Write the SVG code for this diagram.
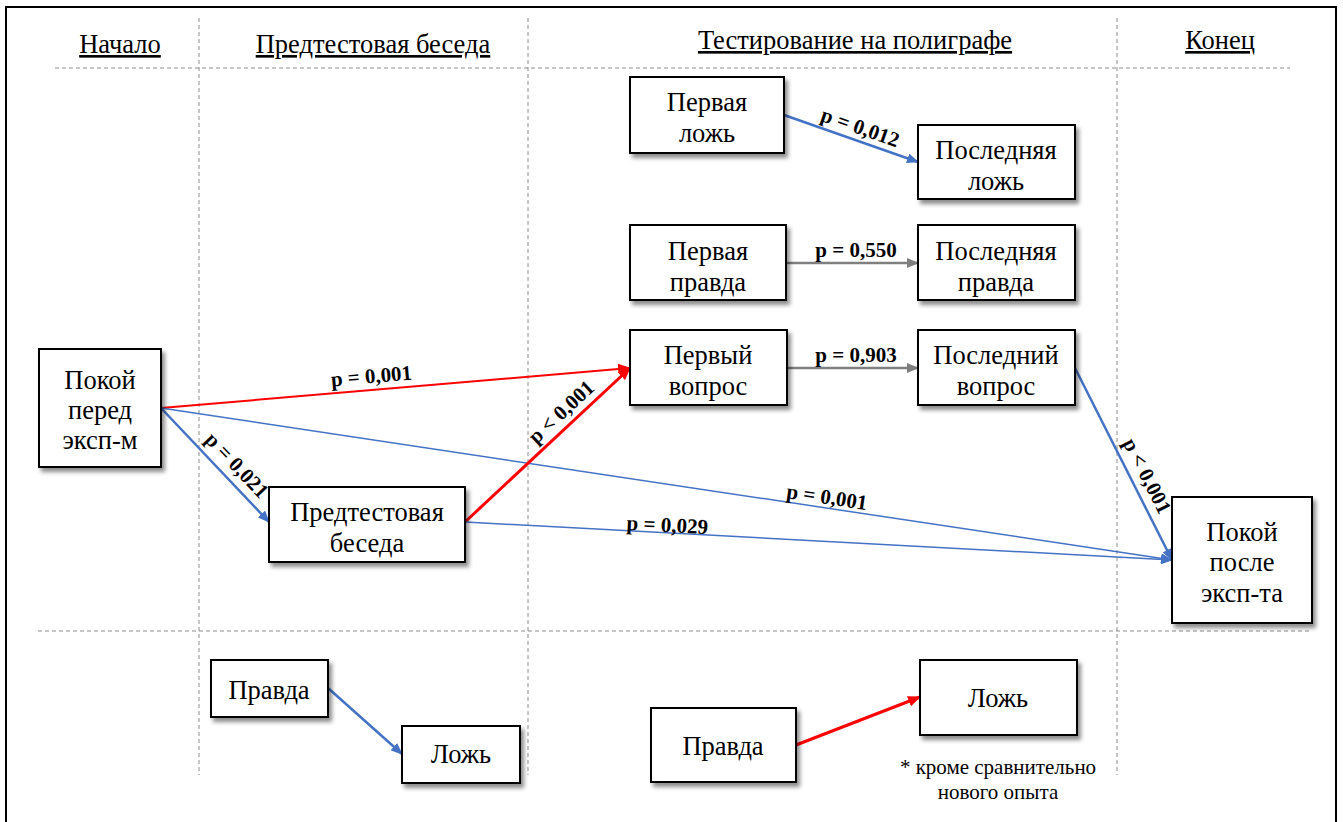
<svg xmlns="http://www.w3.org/2000/svg" width="1343" height="822" viewBox="0 0 1343 822">
<style>
.frame{fill:none;stroke:#000;stroke-width:2}
.grid{stroke:#8c8c8c;stroke-width:1;stroke-dasharray:4 3;fill:none}
.hdr{font-family:"Liberation Serif","Times New Roman",serif;font-size:26.5px;fill:#000;text-anchor:middle;text-decoration:underline}
.box{fill:#fff;stroke:#000;stroke-width:2;filter:url(#sh)}
.nt{font-family:"Liberation Serif","Times New Roman",serif;font-size:26.5px;fill:#000;text-anchor:middle}
.lbl{font-family:"Liberation Serif","Times New Roman",serif;font-size:21px;font-weight:bold;fill:#000;text-anchor:middle}
.note{font-family:"Liberation Serif","Times New Roman",serif;font-size:21px;fill:#000;text-anchor:middle}
.blue{stroke:#4472C4;fill:none}
.red{stroke:#FF0000;fill:none}
.gray{stroke:#7F7F7F;fill:none}
</style>
<defs>
<filter id="sh" x="-10%" y="-10%" width="130%" height="140%">
<feDropShadow dx="3" dy="4" stdDeviation="2" flood-color="#000" flood-opacity="0.45"/>
</filter>
<marker id="ab" viewBox="0 0 12 10" refX="11" refY="5" markerWidth="12" markerHeight="10" markerUnits="userSpaceOnUse" orient="auto"><path d="M0,0 L12,5 L0,10 z" fill="#4472C4"/></marker>
<marker id="ar" viewBox="0 0 12 10" refX="11" refY="5" markerWidth="13" markerHeight="11" markerUnits="userSpaceOnUse" orient="auto"><path d="M0,0 L12,5 L0,10 z" fill="#FF0000"/></marker>
<marker id="ag" viewBox="0 0 12 10" refX="11" refY="5" markerWidth="12" markerHeight="10" markerUnits="userSpaceOnUse" orient="auto"><path d="M0,0 L12,5 L0,10 z" fill="#7F7F7F"/></marker>
</defs>
<rect width="1343" height="822" fill="#fff"/>
<rect class="frame" x="6" y="7" width="1330" height="830"/>
<g id="grid">
<line class="grid" x1="199" y1="18" x2="199" y2="775"/>
<line class="grid" x1="528" y1="18" x2="528" y2="775"/>
<line class="grid" x1="1117" y1="18" x2="1117" y2="775"/>
<line class="grid" x1="55" y1="68" x2="1290" y2="68"/>
<line class="grid" x1="38" y1="631" x2="1310" y2="631"/>
</g>
<g id="headers">
<text class="hdr" x="120" y="53">Начало</text>
<text class="hdr" x="373" y="53">Предтестовая беседа</text>
<text class="hdr" x="855" y="49">Тестирование на полиграфе</text>
<text class="hdr" x="1220" y="49">Конец</text>
</g>
<g id="connectors">
<line class="red" stroke-width="2" x1="161" y1="408" x2="630" y2="368" marker-end="url(#ar)"/>
<line class="blue" stroke-width="2.5" x1="161" y1="408" x2="269" y2="522" marker-end="url(#ab)"/>
<line class="blue" stroke-width="1.5" x1="161" y1="408" x2="1172" y2="560" marker-end="url(#ab)"/>
<line class="red" stroke-width="3" x1="465" y1="522" x2="630" y2="368" marker-end="url(#ar)"/>
<line class="blue" stroke-width="1.5" x1="465" y1="522" x2="1172" y2="560" marker-end="url(#ab)"/>
<line class="blue" stroke-width="2.5" x1="784" y1="115" x2="918" y2="162" marker-end="url(#ab)"/>
<line class="gray" stroke-width="2.5" x1="786" y1="263" x2="918" y2="263" marker-end="url(#ag)"/>
<line class="gray" stroke-width="2.5" x1="787" y1="368" x2="918" y2="368" marker-end="url(#ag)"/>
<line class="blue" stroke-width="2.5" x1="1075" y1="368" x2="1172" y2="560" marker-end="url(#ab)"/>
<line class="blue" stroke-width="2.5" x1="328" y1="688" x2="402" y2="754" marker-end="url(#ab)"/>
<line class="red" stroke-width="3" x1="796" y1="745" x2="920" y2="697" marker-end="url(#ar)"/>
<text class="lbl" transform="translate(372,383) rotate(-4.9)">p = 0,001</text>
<text class="lbl" transform="translate(232,470) rotate(46.5)">p = 0,021</text>
<text class="lbl" transform="translate(826,504) rotate(8.5)">p = 0,001</text>
<text class="lbl" transform="translate(566,417) rotate(-43)">p &lt; 0,001</text>
<text class="lbl" transform="translate(667,532) rotate(3)">p = 0,029</text>
<text class="lbl" transform="translate(858,134) rotate(19.3)">p = 0,012</text>
<text class="lbl" x="856" y="257">p = 0,550</text>
<text class="lbl" x="856" y="362">p = 0,903</text>
<text class="lbl" transform="translate(1141,479) rotate(63)">p &lt; 0,001</text>
</g>
<g id="n-pokoy-pered"><rect class="box" x="39" y="349" width="122" height="118"/><text class="nt" x="100" y="389">Покой</text><text class="nt" x="100" y="419">перед</text><text class="nt" x="100" y="449">эксп-м</text></g>
<g id="n-predtest"><rect class="box" x="269" y="487" width="196" height="75"/><text class="nt" x="367" y="521">Предтестовая</text><text class="nt" x="367" y="552">беседа</text></g>
<g id="n-first-lie"><rect class="box" x="630" y="77" width="154" height="76"/><text class="nt" x="707" y="111">Первая</text><text class="nt" x="707" y="142">ложь</text></g>
<g id="n-last-lie"><rect class="box" x="918" y="125" width="157" height="74"/><text class="nt" x="996" y="159">Последняя</text><text class="nt" x="996" y="190">ложь</text></g>
<g id="n-first-truth"><rect class="box" x="630" y="225" width="156" height="75"/><text class="nt" x="708" y="260">Первая</text><text class="nt" x="708" y="291">правда</text></g>
<g id="n-last-truth"><rect class="box" x="918" y="225" width="157" height="75"/><text class="nt" x="996" y="260">Последняя</text><text class="nt" x="996" y="291">правда</text></g>
<g id="n-first-q"><rect class="box" x="630" y="330" width="157" height="75"/><text class="nt" x="708" y="364">Первый</text><text class="nt" x="708" y="395">вопрос</text></g>
<g id="n-last-q"><rect class="box" x="918" y="330" width="157" height="75"/><text class="nt" x="996" y="364">Последний</text><text class="nt" x="996" y="395">вопрос</text></g>
<g id="n-pokoy-posle"><rect class="box" x="1172" y="497" width="140" height="126"/><text class="nt" x="1242" y="541">Покой</text><text class="nt" x="1242" y="571">после</text><text class="nt" x="1242" y="602">эксп-та</text></g>
<g id="n-pravda-1"><rect class="box" x="211" y="660" width="117" height="57"/><text class="nt" x="269" y="699">Правда</text></g>
<g id="n-lozh-1"><rect class="box" x="402" y="726" width="118" height="57"/><text class="nt" x="461" y="763">Ложь</text></g>
<g id="n-pravda-2"><rect class="box" x="651" y="708" width="145" height="74"/><text class="nt" x="723" y="755">Правда</text></g>
<g id="n-lozh-2"><rect class="box" x="920" y="660" width="157" height="75"/><text class="nt" x="998" y="707">Ложь</text></g>
<g id="footnote"><text class="note" x="998" y="774">* кроме сравнительно</text><text class="note" x="998" y="799">нового опыта</text></g>
</svg>
